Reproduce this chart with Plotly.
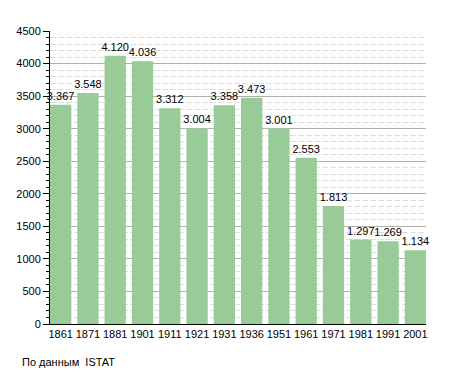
import plotly.graph_objects as go

years = ["1861", "1871", "1881", "1901", "1911", "1921", "1931", "1936", "1951", "1961", "1971", "1981", "1991", "2001"]
population = [3367, 3548, 4120, 4036, 3312, 3004, 3358, 3473, 3001, 2553, 1813, 1297, 1269, 1134]
labels = ["3.367", "3.548", "4.120", "4.036", "3.312", "3.004", "3.358", "3.473", "3.001", "2.553", "1.813", "1.297", "1.269", "1.134"]

pos = list(range(len(years)))

fig = go.Figure(go.Bar(
    x=pos, y=population, text=labels, textposition="outside",
    textfont=dict(size=11, color="black", family="Liberation Sans, Arial"),
    constraintext="none",
    marker=dict(color="#98cb98", line=dict(width=0)),
    width=0.78, cliponaxis=False,
))

fig.update_layout(
    width=455, height=373,
    margin=dict(l=50, r=29, t=31, b=49),
    paper_bgcolor="white", plot_bgcolor="white",
    font=dict(family="Liberation Sans, Arial", size=11, color="black"),
    showlegend=False,
    xaxis=dict(
        range=[-0.39, 13.39], tickmode="array", tickvals=pos, ticktext=years,
        showgrid=False, zeroline=False, showline=True, linecolor="black", linewidth=1,
        ticks="", tickfont=dict(size=11),
    ),
    yaxis=dict(
        range=[0, 4500], dtick=500, tick0=0,
        showgrid=True, gridcolor="#b0b0b0", gridwidth=1,
        zeroline=False, showline=True, linecolor="black", linewidth=1,
        ticks="outside", ticklen=6, tickcolor="black", tickfont=dict(size=11),
        minor=dict(dtick=100, showgrid=True, gridcolor="#e0e0e0", griddash="6px,2px",
                   ticks="outside", ticklen=3, tickcolor="black"),
    ),
    bargap=0.22,
)

fig.add_annotation(text="По данным  ISTAT", xref="paper", yref="paper",
                   x=-30/376, y=-38/293, xanchor="left", yanchor="middle",
                   showarrow=False, font=dict(size=11, color="black"))

fig.write_html("out.html", config={"displayModeBar": False},
               post_script="document.body.style.margin='0';document.body.style.padding='0';")
